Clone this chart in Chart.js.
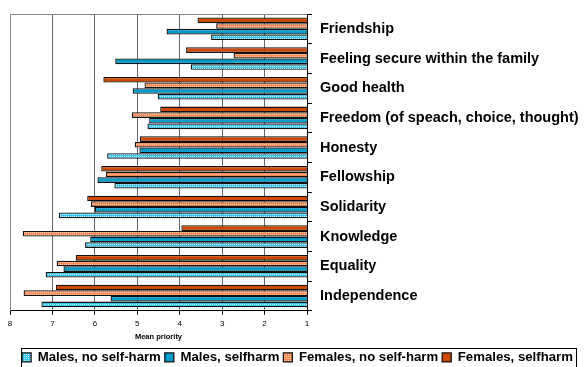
<!DOCTYPE html>
<html>
<head>
<meta charset="utf-8">
<script src="https://cdn.jsdelivr.net/npm/chart.js@4"></script>
<style>
  html, body { margin: 0; padding: 0; background: #fff; }
  #wrap { width: 585px; height: 367px; position: relative; }
</style>
</head>
<body>
<div id="wrap"><canvas id="myChart" width="585" height="367"></canvas></div>
<script>
const categories = ['Friendship', 'Feeling secure within the family', 'Good health',
    'Freedom (of speach, choice, thought)', 'Honesty', 'Fellowship', 'Solidarity',
    'Knowledge', 'Equality', 'Independence'];
const malesNoSelfHarm   = [3.26, 3.74, 4.52, 4.76, 5.71, 5.54, 6.85, 6.23, 7.16, 7.26];
const malesSelfHarm     = [4.31, 5.52, 5.11, 4.72, 4.95, 5.94, 6.00, 6.11, 6.74, 5.63];
const femalesNoSelfHarm = [3.14, 2.73, 4.83, 5.13, 5.06, 5.74, 6.09, 7.70, 6.90, 7.68];
const femalesSelfHarm   = [3.58, 3.85, 5.80, 4.46, 4.94, 5.85, 6.18, 3.96, 6.45, 6.92];
const xMin = 1, xMax = 8;

// small dotted fill like the spreadsheet patterns
function dotted(base, dot) {
    const c = document.createElement('canvas');
    c.width = 2; c.height = 2;
    const g = c.getContext('2d');
    g.fillStyle = base; g.fillRect(0, 0, 2, 2);
    g.fillStyle = dot; g.fillRect(0, 0, 1, 1);
    return g.createPattern(c, 'repeat');
}

// gray frame round the plot area, box round the legend
const frame = {
    id: 'frame',
    beforeDatasetsDraw(chart) {
        const {ctx, chartArea: a} = chart;
        ctx.save();
        ctx.strokeStyle = '#888';
        ctx.lineWidth = 1;
        ctx.beginPath();
        ctx.moveTo(a.left + 0.5, a.bottom);
        ctx.lineTo(a.left + 0.5, a.top + 0.5);
        ctx.lineTo(a.right, a.top + 0.5);
        ctx.stroke();
        ctx.restore();
    },
    afterDraw(chart) {
        const ctx = chart.ctx;
        ctx.save();
        ctx.strokeStyle = '#000';
        ctx.lineWidth = 1;
        ctx.strokeRect(21.5, 348.5, 555, 30);
        ctx.restore();
    }
};

const ctx = document.getElementById('myChart').getContext('2d');
const chart = new Chart(ctx, {
    type: 'bar',
    data: {
        labels: categories,
        datasets: [
            { label: 'Females, selfharm', data: femalesSelfHarm, backgroundColor: '#CF4A00' },
            { label: 'Females, no self-harm', data: femalesNoSelfHarm, backgroundColor: dotted('#FF8850', '#FFCDB0') },
            { label: 'Males, selfharm', data: malesSelfHarm, backgroundColor: '#009DCC' },
            { label: 'Males, no self-harm', data: malesNoSelfHarm, backgroundColor: dotted('#35C6F2', '#C5F1FF') }
        ]
    },
    options: {
        indexAxis: 'y',
        responsive: false,
        animation: false,
        layout: { padding: { left: 10, right: 0, top: 14, bottom: -7 } },
        datasets: {
            bar: {
                borderColor: '#111',
                borderWidth: 1.3,
                categoryPercentage: 0.76,
                barPercentage: 1
            }
        },
        plugins: {
            tooltip: { enabled: false },
            legend: {
                position: 'bottom',
                reverse: true,
                labels: {
                    boxWidth: 9,
                    boxHeight: 9,
                    padding: 4,
                    color: '#000',
                    font: { family: 'Arial, "Liberation Sans"', size: 13.2, weight: 'bold' }
                }
            }
        },
        scales: {
            x: {
                min: xMin,
                max: xMax,
                reverse: true,
                afterFit(scale) { scale.height = 36; },
                ticks: {
                    stepSize: 1,
                    padding: 4,
                    color: '#000',
                    font: { family: 'Arial, "Liberation Sans"', size: 8 }
                },
                grid: { color: '#666', tickColor: '#000', tickLength: 4 },
                border: { color: '#000' },
                title: {
                    display: true,
                    text: 'Mean priority',
                    color: '#000',
                    padding: { top: 0, bottom: 5 },
                    font: { family: 'Arial, "Liberation Sans"', size: 7.5, weight: 'bold' }
                }
            },
            y: {
                position: 'right',
                afterFit(scale) {
                    scale.width = 278;
                    scale.paddingTop = 0;
                    scale.paddingBottom = 0;
                },
                ticks: {
                    padding: 8,
                    color: '#000',
                    font: { family: 'Arial, "Liberation Sans"', size: 14.5, weight: 'bold' }
                },
                grid: { drawOnChartArea: false, offset: true, tickLength: 5, tickColor: '#000' },
                border: { color: '#000' }
            }
        }
    },
    plugins: [frame]
});
</script>
</body>
</html>
